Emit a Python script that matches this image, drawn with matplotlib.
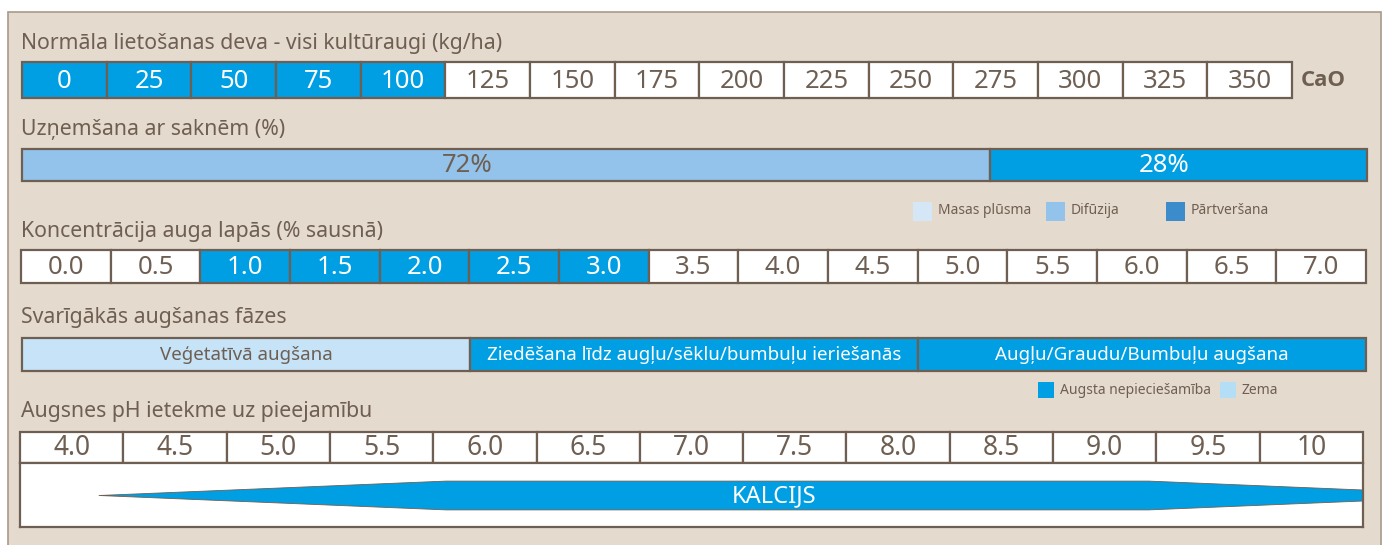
import matplotlib.pyplot as plt
import numpy as np
from matplotlib.patches import Rectangle

# --- data ---
dose_labels = ["0", "25", "50", "75", "100", "125", "150", "175", "200",
               "225", "250", "275", "300", "325", "350"]
dose_high = [True] * 5 + [False] * 10

uptake_labels = ["72%", "28%"]
uptake_values = [72, 28]

conc_labels = ["0.0", "0.5", "1.0", "1.5", "2.0", "2.5", "3.0", "3.5",
               "4.0", "4.5", "5.0", "5.5", "6.0", "6.5", "7.0"]
conc_high = [False, False, True, True, True, True, True] + [False] * 8

phase_labels = ["Veģetatīvā augšana",
                "Ziedēšana līdz augļu/sēklu/bumbuļu ieriešanās",
                "Augļu/Graudu/Bumbuļu augšana"]
phase_span = [1, 1, 1]
phase_high = [False, True, True]

ph_labels = ["4.0", "4.5", "5.0", "5.5", "6.0", "6.5", "7.0", "7.5",
             "8.0", "8.5", "9.0", "9.5", "10"]
# availability band for calcium: pH position vs relative width
ca_ph = [4.13, 5.81, 9.21, 10.25]
ca_width = [0.0, 1.0, 1.0, 0.38]

# --- style ---
W, H = 1388, 545
BG = "#E5DACE"
EDGE = "#6E5F52"
TXT = "#6E5F52"
BLUE = "#009FE3"
DIFF = "#93C3EA"
MASS = "#D5E7F6"
INTER = "#3C8BCB"
VEG = "#C6E3F7"
LOW = "#B3DEF5"
FONT = "Noto Sans"

plt.rcParams["font.family"] = [FONT, "DejaVu Sans"]

fig = plt.figure(figsize=(W / 100, H / 100), dpi=100)
fig.patch.set_facecolor("white")


def px_axes(x0, y0, x1, y1):
    return fig.add_axes([x0 / W, 1 - y1 / H, (x1 - x0) / W, (y1 - y0) / H])


def fx(x):
    return x / W


def fy(y):
    return 1 - y / H


# panel background
bg = fig.add_axes([0, 0, 1, 1])
bg.set_xlim(0, W)
bg.set_ylim(H, 0)
bg.axis("off")
bg.add_patch(Rectangle((8, 12), 1373, 560, facecolor=BG, edgecolor="#A89A8C", lw=1.2))


def title(y, s):
    fig.text(fx(21), fy(y), s, fontsize=15.3, color=TXT, va="center", ha="left")


def cell_row(ax, labels, high, size=18.5):
    n = len(labels)
    ax.set_xlim(0, n)
    ax.set_ylim(0, 1)
    ax.axis("off")
    cols = [BLUE if h else "white" for h in high]
    ax.bar(np.arange(n), 1, width=1, align="edge", color=cols,
           edgecolor=EDGE, lw=1.6, clip_on=False)
    for i, (lab, h) in enumerate(zip(labels, high)):
        ax.text(i + 0.5, 0.47, lab, ha="center", va="center", fontsize=size,
                color="white" if h else TXT)


def legend(items, y, sq):
    for x, col, lab in items:
        bg.add_patch(Rectangle((x, y - sq / 2), sq, sq, facecolor=col, edgecolor="none"))
        bg.text(x + sq + 6, y, lab, fontsize=10, color=TXT, va="center", ha="left")


# row 1: dose
title(44, "Normāla lietošanas deva - visi kultūraugi (kg/ha)")
ax1 = px_axes(22, 62, 1292, 98)
cell_row(ax1, dose_labels, dose_high)
fig.text(fx(1301), fy(81), "CaO", fontsize=16, fontweight="bold", color=TXT,
         va="center", ha="left", family=["Open Sans", "DejaVu Sans"])

# row 2: uptake
title(129, "Uzņemšana ar saknēm (%)")
ax2 = px_axes(22, 149, 1367, 181)
ax2.set_xlim(0, sum(uptake_values))
ax2.set_ylim(0, 1)
ax2.axis("off")
left = np.concatenate([[0], np.cumsum(uptake_values)[:-1]])
ax2.barh(0.5, uptake_values, left=left, height=1, color=[DIFF, BLUE],
         edgecolor=EDGE, lw=1.6, clip_on=False)
for l, v, lab, c in zip(left, uptake_values, uptake_labels, [TXT, "white"]):
    ax2.text(l + 0.46 * v, 0.47, lab, ha="center", va="center", fontsize=18.5, color=c)

legend([(913, MASS, "Masas plūsma"), (1046, DIFF, "Difūzija"),
        (1166, INTER, "Pārtveršana")], 211, 19)

# row 3: leaf concentration
title(231, "Koncentrācija auga lapās (% sausnā)")
ax3 = px_axes(21, 250, 1366, 283)
cell_row(ax3, conc_labels, conc_high)

# row 4: growth phases
title(317, "Svarīgākās augšanas fāzes")
ax4 = px_axes(22, 338, 1366, 371)
ax4.set_xlim(0, sum(phase_span))
ax4.set_ylim(0, 1)
ax4.axis("off")
pleft = np.concatenate([[0], np.cumsum(phase_span)[:-1]])
ax4.barh(0.5, phase_span, left=pleft, height=1,
         color=[BLUE if h else VEG for h in phase_high],
         edgecolor=EDGE, lw=1.6, clip_on=False)
for l, v, lab, h in zip(pleft, phase_span, phase_labels, phase_high):
    ax4.text(l + v / 2, 0.47, lab, ha="center", va="center", fontsize=13.5,
             color="white" if h else TXT)

legend([(1038, BLUE, "Augsta nepieciešamība"), (1220, LOW, "Zema")], 390, 16)

# row 5: soil pH
title(412, "Augsnes pH ietekme uz pieejamību")
ax5 = px_axes(20, 432, 1363, 463)
cell_row(ax5, ph_labels, [False] * len(ph_labels), size=19)

ax6 = px_axes(20, 463, 1363, 527)
n = len(ph_labels)
ax6.set_xlim(0, n)
ax6.set_ylim(-1, 1)
ax6.set_xticks([])
ax6.set_yticks([])
ax6.set_facecolor("white")
for s in ax6.spines.values():
    s.set_color(EDGE)
    s.set_linewidth(1.6)
xs = (np.array(ca_ph) - 4.0) / 0.5 + 0.5
hw = np.array(ca_width) * 0.45
ax6.fill_between(xs, -hw, hw, color=BLUE, edgecolor=EDGE, lw=0.6)
ax6.text(7.3, -0.03, "KALCIJS", ha="center", va="center", fontsize=17, color="white")

fig.savefig("out.png", dpi=100)
